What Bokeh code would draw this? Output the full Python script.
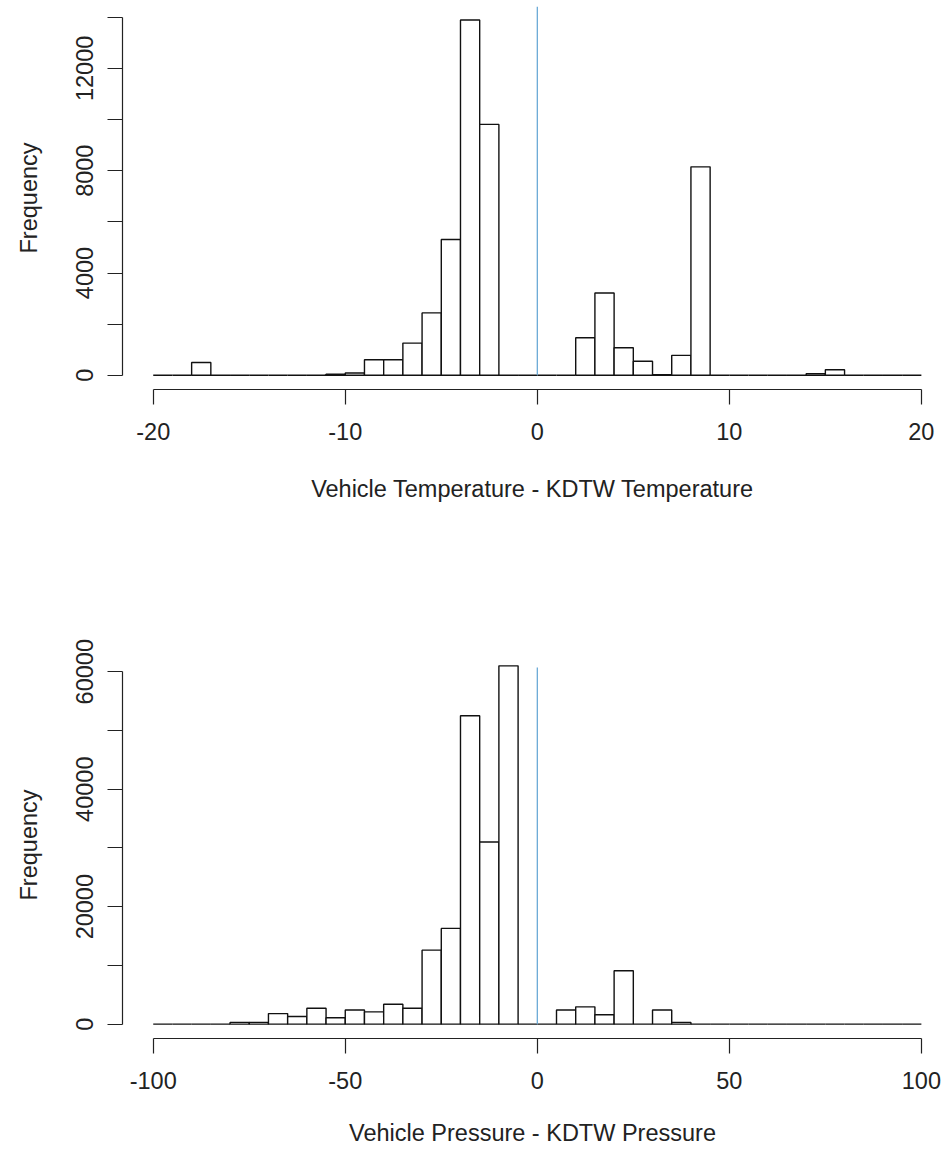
from bokeh.plotting import figure
from bokeh.layouts import column
from bokeh.models import FixedTicker, ColumnDataSource
from bokeh.embed import file_html
from bokeh.resources import INLINE

# ---- data: temperature difference histogram (bin width 1, -20..20) ----
temp_edges = list(range(-20, 21))
temp_counts = [0, 0, 500, 0, 0, 0, 0, 0, 0, 40,
               90, 610, 610, 1260, 2440, 5310, 13890, 9810, 0, 0,
               0, 0, 1470, 3220, 1080, 550, 20, 780, 8150, 0,
               0, 0, 0, 0, 65, 220, 0, 0, 0, 0]
temp_yticks = [0, 2000, 4000, 6000, 8000, 10000, 12000, 14000]
temp_ylabels = ["0", "", "4000", "", "8000", "", "12000", ""]
temp_xticks = [-20, -10, 0, 10, 20]
temp_xlabels = ["-20", "-10", "0", "10", "20"]

# ---- data: pressure difference histogram (bin width 5, -100..100) ----
pres_edges = list(range(-100, 101, 5))
pres_counts = [0, 0, 0, 0, 300, 300, 1800, 1300, 2700, 1100,
               2400, 2100, 3400, 2700, 12600, 16300, 52500, 31000, 61000, 0,
               0, 2400, 2950, 1600, 9100, 0, 2400, 300, 0, 0,
               0, 0, 0, 0, 0, 0, 0, 0, 0, 0]
pres_yticks = [0, 10000, 20000, 30000, 40000, 50000, 60000]
pres_ylabels = ["0", "", "20000", "", "40000", "", "60000"]
pres_xticks = [-100, -50, 0, 50, 100]
pres_xlabels = ["-100", "-50", "0", "50", "100"]

FONT = "Liberation Sans"
TXT = "#222222"
VLINE = "#5fa3d3"


def panel(edges, counts, yticks, ylabels, xticks, xlabels, xlabel, x_range, y_range,
          ref_top, height, border_top, border_bottom, xtitle_standoff):
    p = figure(width=942, height=height, x_range=x_range, y_range=y_range,
               output_backend="svg", toolbar_location=None,
               min_border_left=122, min_border_right=0,
               min_border_top=border_top, min_border_bottom=border_bottom)
    p.outline_line_color = None
    p.xgrid.visible = False
    p.ygrid.visible = False
    p.background_fill_color = "white"
    p.border_fill_color = "white"

    src = ColumnDataSource(dict(left=edges[:-1], right=edges[1:],
                                top=counts, bottom=[0] * len(counts)))
    p.quad(left="left", right="right", top="top", bottom="bottom", source=src,
           fill_color="white", line_color="#111111", line_width=1.4)
    p.segment(x0=[0], x1=[0], y0=[0], y1=[ref_top], line_color=VLINE, line_width=1.2)

    for ax in (p.xaxis[0], p.yaxis[0]):
        ax.axis_line_color = TXT
        ax.axis_line_width = 1.2
        ax.major_tick_line_color = TXT
        ax.major_tick_line_width = 1.2
        ax.minor_tick_line_color = None
        ax.major_tick_out = 15
        ax.major_tick_in = 0
        ax.major_label_text_font = FONT
        ax.major_label_text_font_size = "23.5px"
        ax.major_label_text_color = TXT
        ax.axis_label_text_font = FONT
        ax.axis_label_text_font_size = "23.5px"
        ax.axis_label_text_font_style = "normal"
        ax.axis_label_text_color = TXT

    xa = p.xaxis[0]
    xa.ticker = FixedTicker(ticks=xticks)
    xa.major_label_overrides = {t: lab for t, lab in zip(xticks, xlabels)}
    xa.bounds = (xticks[0], xticks[-1])
    xa.axis_label = xlabel
    xa.major_label_standoff = 18
    xa.axis_label_standoff = xtitle_standoff

    ya = p.yaxis[0]
    ya.ticker = FixedTicker(ticks=yticks)
    ya.major_label_overrides = {t: lab for t, lab in zip(yticks, ylabels)}
    ya.bounds = (yticks[0], yticks[-1])
    ya.axis_label = "Frequency"
    ya.major_label_orientation = "vertical"
    ya.major_label_standoff = 14
    ya.axis_label_standoff = 32
    return p


p1 = panel(temp_edges, temp_counts, temp_yticks, temp_ylabels, temp_xticks, temp_xlabels,
           "Vehicle Temperature - KDTW Temperature",
           (-21.6, 21.1), (-555, 14420), 14420,
           height=576, border_top=6, border_bottom=187, xtitle_standoff=33)

p2 = panel(pres_edges, pres_counts, pres_yticks, pres_ylabels, pres_xticks, pres_xlabels,
           "Vehicle Pressure - KDTW Pressure",
           (-108, 105.5), (-2440, 63440), 60700,
           height=576, border_top=75, border_bottom=114, xtitle_standoff=28)

layout = column(p1, p2, spacing=0)
open("out.html", "w").write(file_html(layout, INLINE))
